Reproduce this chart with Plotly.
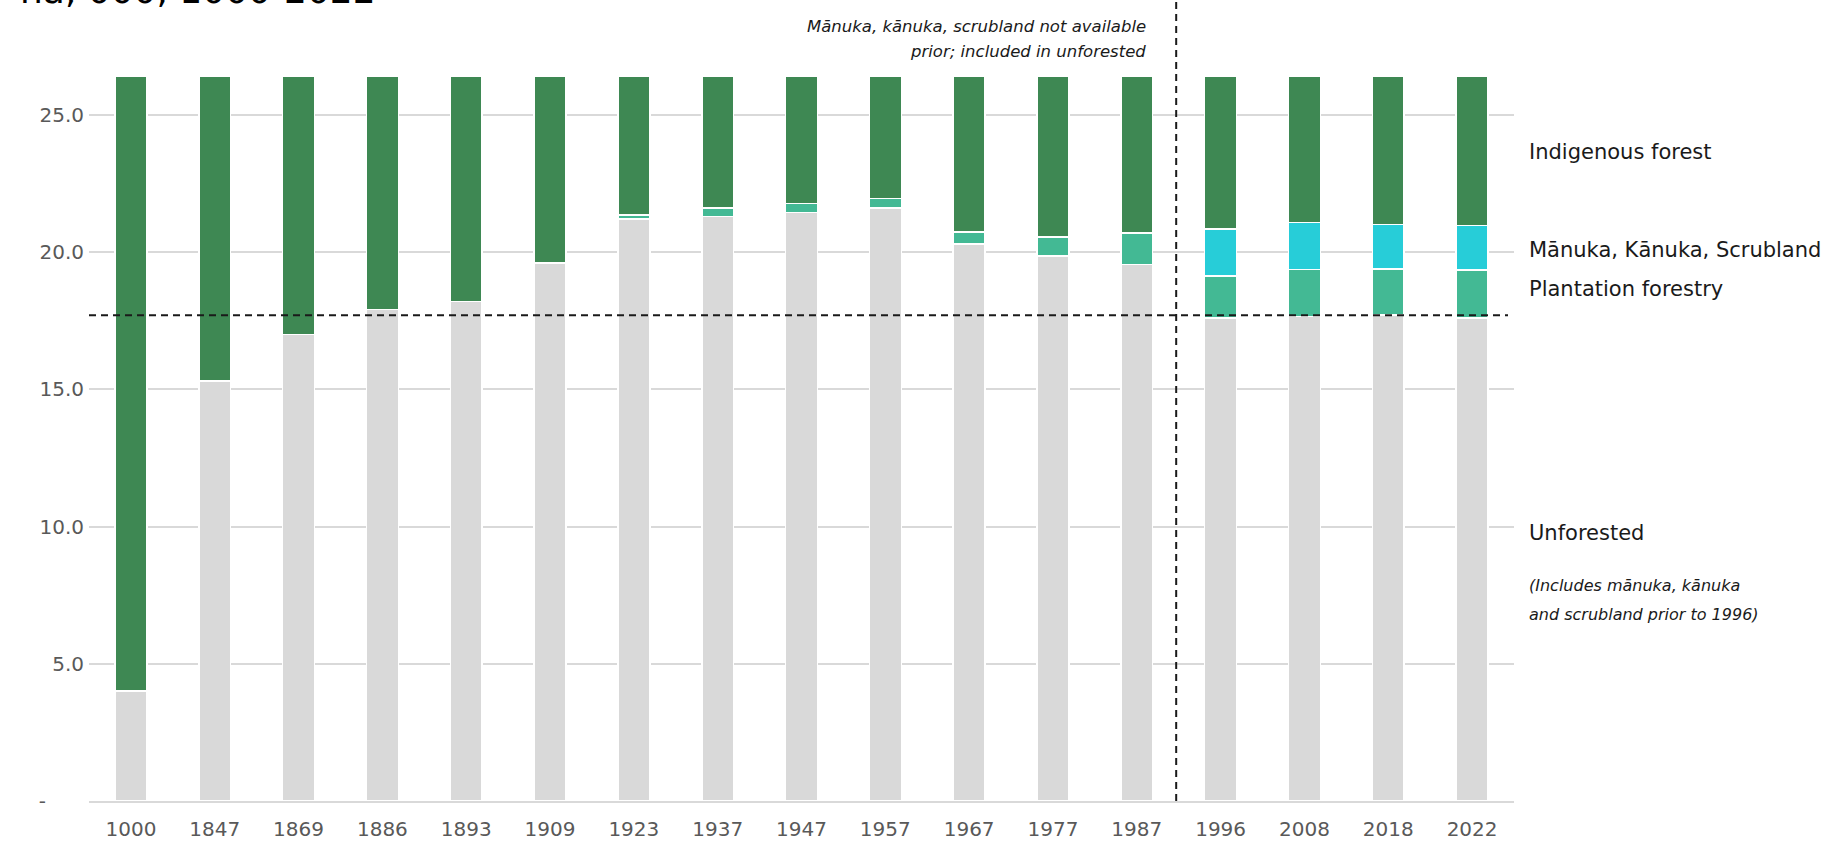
import plotly.graph_objects as go

years = ["1000", "1847", "1869", "1886", "1893", "1909", "1923", "1937", "1947",
         "1957", "1967", "1977", "1987", "1996", "2008", "2018", "2022"]
unforested = [4.0, 15.3, 17.0, 17.9, 18.2, 19.6, 21.2, 21.3, 21.45, 21.6, 20.3,
              19.85, 19.55, 17.6, 17.65, 17.7, 17.6]
plantation = [0, 0, 0, 0, 0, 0, 0.15, 0.3, 0.33, 0.35, 0.43, 0.7, 1.15, 1.53,
              1.72, 1.68, 1.75]
manuka = [0, 0, 0, 0, 0, 0, 0, 0, 0, 0, 0, 0, 0, 1.72, 1.71, 1.63, 1.62]
indigenous = [22.4, 11.1, 9.4, 8.5, 8.2, 6.8, 5.05, 4.8, 4.62, 4.45, 5.67, 5.85,
              5.7, 5.55, 5.32, 5.39, 5.43]
ref_level = 17.7
ytick_vals = [0, 5, 10, 15, 20, 25]
ytick_text = ["-" + "\u00a0" * 6, "5.0", "10.0", "15.0", "20.0", "25.0"]

FONT = "DejaVu Sans"
W, H = 1837, 845
L, R, T, B = 89, 323, 60, 44
PW, PH = W - L - R, H - T - B


def px_x(x):
    return (x - L) / PW


def px_y(y):
    return 1 - (y - T) / PH


series = [
    ("Unforested", unforested, "#D9D9D9"),
    ("Plantation forestry", plantation, "#43B994"),
    ("Mānuka, Kānuka, Scrubland", manuka, "#27CDD8"),
    ("Indigenous forest", indigenous, "#3E8853"),
]

fig = go.Figure()
for name, vals, col in series:
    fig.add_trace(go.Bar(
        x=years, y=vals, name=name,
        marker=dict(color=col, line=dict(color="white", width=1.5)),
        hoverinfo="x+y+name",
    ))

fig.update_layout(
    template="none",
    barmode="stack",
    bargap=0.62,
    width=W, height=H,
    margin=dict(l=L, r=R, t=T, b=B, autoexpand=False),
    paper_bgcolor="white",
    plot_bgcolor="white",
    showlegend=False,
    font=dict(family=FONT, color="#595959"),
    xaxis=dict(
        type="category",
        automargin=False,
        range=[-0.5, 16.5],
        showgrid=False,
        showline=True, linecolor="#D9D9D9", linewidth=2,
        ticks="",
        tickfont=dict(size=20, color="#595959", family=FONT),
        ticklabelstandoff=9,
    ),
    yaxis=dict(
        automargin=False,
        range=[0, 27.0],
        tickvals=ytick_vals,
        ticktext=ytick_text,
        showgrid=True, gridcolor="#D9D9D9", gridwidth=1.5,
        zeroline=False,
        showline=False,
        ticks="",
        tickfont=dict(size=20, color="#595959", family=FONT),
        ticklabelstandoff=4,
    ),
)

# reference dashed lines
fig.add_shape(type="line", xref="paper", yref="y",
              x0=0, x1=px_x(1508), y0=ref_level, y1=ref_level,
              line=dict(color="#1a1a1a", width=2, dash="7px,5px"))
fig.add_shape(type="line", xref="x", yref="paper",
              x0=12.47, x1=12.47, y0=0, y1=px_y(0),
              line=dict(color="#1a1a1a", width=2, dash="7px,5px"))

# right-side labels
lab_x = px_x(1527)
labels = [
    ("Indigenous forest", 23.65),
    ("Mānuka, Kānuka, Scrubland", 20.08),
    ("Plantation forestry", 18.65),
    ("Unforested", 9.75),
]
for txt, yv in labels:
    fig.add_annotation(text=txt, xref="paper", yref="y", x=lab_x, y=yv,
                       xanchor="left", yanchor="middle", showarrow=False,
                       font=dict(size=21, color="#1a1a1a", family=FONT))

note_lines = [("<i>(Includes mānuka, kānuka</i>", 7.84),
              ("<i>and scrubland prior to 1996)</i>", 6.8)]
for txt, yv in note_lines:
    fig.add_annotation(text=txt, xref="paper", yref="y", x=lab_x, y=yv,
                       xanchor="left", yanchor="middle", align="left", showarrow=False,
                       font=dict(size=16, color="#1a1a1a", family=FONT))

top_note = [("<i>Mānuka, kānuka, scrubland not available</i>", 26),
            ("<i>prior; included in unforested</i>", 51)]
for txt, ypx in top_note:
    fig.add_annotation(text=txt, xref="paper", yref="paper", x=px_x(1148), y=px_y(ypx),
                       xanchor="right", yanchor="middle", align="right", showarrow=False,
                       font=dict(size=16.5, color="#1a1a1a", family=FONT))

# title (only lower part visible at the top of the page)
fig.add_annotation(text="ha, 000, 1000-2022",
                   xref="paper", yref="paper", x=px_x(18), y=px_y(13),
                   xanchor="left", yanchor="bottom", showarrow=False,
                   font=dict(size=36, color="#000000", family=FONT))

fig.write_html("out.html", config={"displayModeBar": False},
               post_script="document.body.style.margin='0px';")
